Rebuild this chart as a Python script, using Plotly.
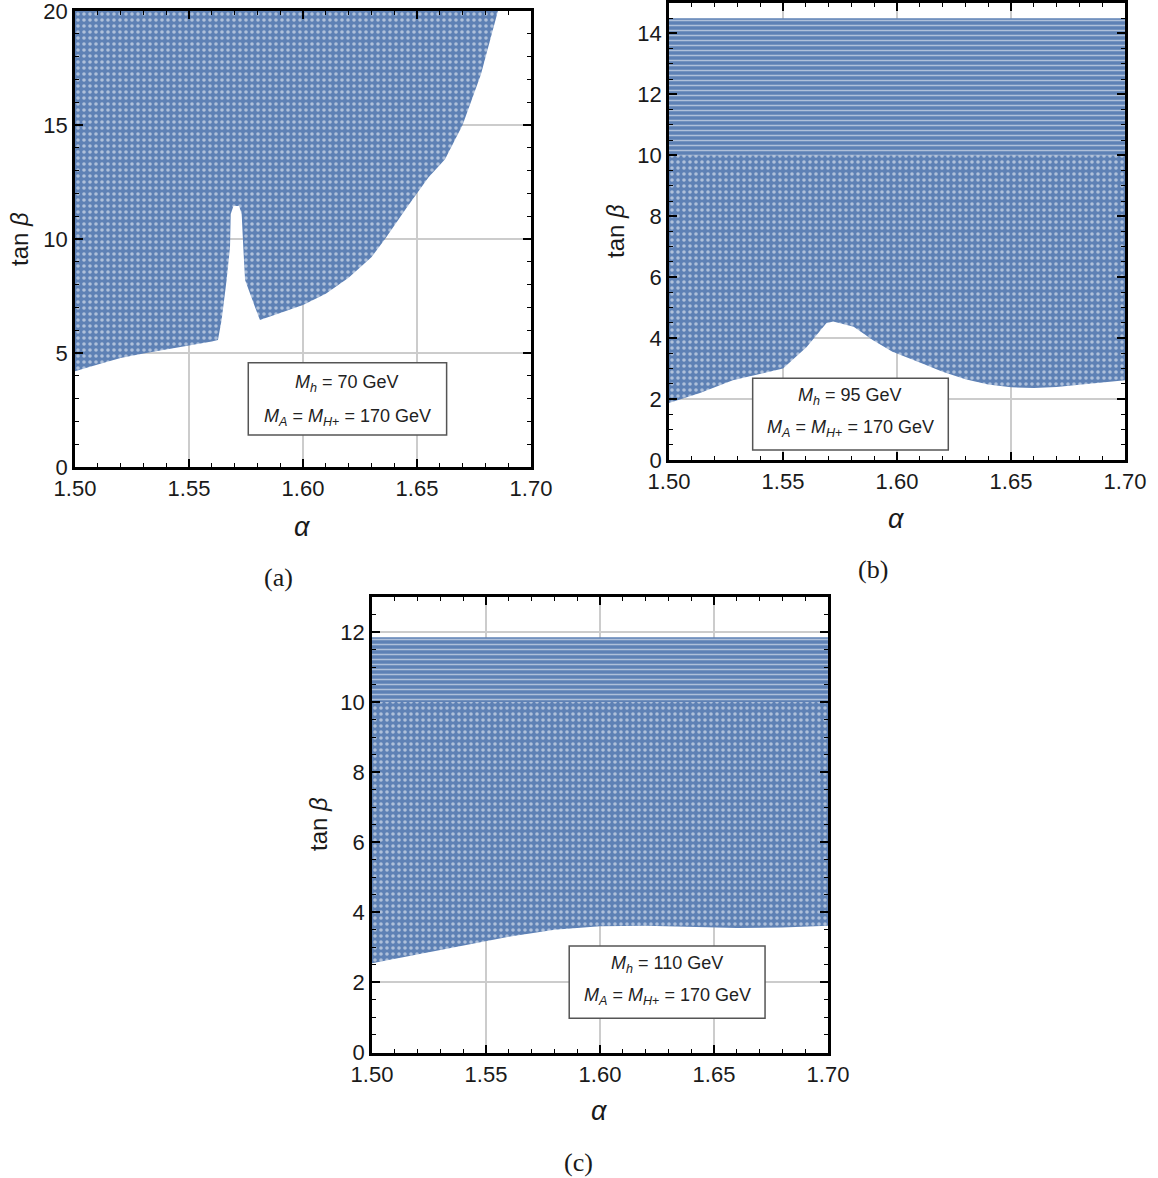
import plotly.graph_objects as go

# ---------------- data ----------------
# Panel (a): boundary of allowed region, traced from top-left corner
a_alpha = [1.50, 1.50, 1.51, 1.52, 1.53, 1.54, 1.55, 1.56, 1.5627, 1.5643, 1.5665,
           1.5680, 1.5683, 1.5695, 1.5720, 1.5731, 1.5738, 1.5746, 1.5789, 1.5811,
           1.59, 1.60, 1.61, 1.62, 1.63, 1.636, 1.645, 1.655, 1.6623, 1.670, 1.678, 1.6855]
a_tanb = [20.0, 4.2, 4.5, 4.78, 4.98, 5.15, 5.3, 5.5, 5.57, 6.45, 8.2,
          9.66, 11.1, 11.45, 11.45, 11.1, 9.66, 8.2, 7.03, 6.45,
          6.75, 7.1, 7.6, 8.3, 9.2, 10.0, 11.3, 12.7, 13.5, 15.0, 17.2, 20.0]

# Panel (b): lower boundary of the speckled region, top of streaked band
b_alpha = [1.50, 1.5136, 1.528, 1.55, 1.5604, 1.569, 1.572, 1.581, 1.5895, 1.598,
           1.61, 1.62, 1.63, 1.64, 1.65, 1.66, 1.67, 1.68, 1.69, 1.70]
b_tanb = [1.87, 2.2, 2.62, 3.0, 3.71, 4.49, 4.55, 4.37, 3.93, 3.55,
          3.2, 2.9, 2.65, 2.48, 2.39, 2.36, 2.4, 2.47, 2.55, 2.62]
b_split = 10.0
b_top = 14.5

# Panel (c)
c_alpha = [1.50, 1.52, 1.54, 1.56, 1.58, 1.60, 1.62, 1.64, 1.66, 1.68, 1.70]
c_tanb = [2.55, 2.8, 3.05, 3.3, 3.5, 3.6, 3.62, 3.58, 3.55, 3.57, 3.62]
c_split = 10.0
c_top = 11.85

labels = {
    "a": ["<i>M</i><sub><i>h</i></sub> = 70 GeV", "<i>M</i><sub><i>A</i></sub> = <i>M</i><sub><i>H</i>+</sub> = 170 GeV"],
    "b": ["<i>M</i><sub><i>h</i></sub> = 95 GeV", "<i>M</i><sub><i>A</i></sub> = <i>M</i><sub><i>H</i>+</sub> = 170 GeV"],
    "c": ["<i>M</i><sub><i>h</i></sub> = 110 GeV", "<i>M</i><sub><i>A</i></sub> = <i>M</i><sub><i>H</i>+</sub> = 170 GeV"],
}
x_ticks = [1.50, 1.55, 1.60, 1.65, 1.70]
y_ticks = {"a": [0, 5, 10, 15, 20], "b": [0, 2, 4, 6, 8, 10, 12, 14], "c": [0, 2, 4, 6, 8, 10, 12]}

# ---------------- styling ----------------
BLUE = "#5E81B5"
W, H = 1158, 1178
FONT = "Liberation Sans, Arial, sans-serif"

speckle = dict(shape=".", bgcolor=BLUE, fgcolor="white", size=6, solidity=0.28)
streak = dict(shape="-", bgcolor=BLUE, fgcolor="white", size=5, solidity=0.3)

fig = go.Figure()

def region(xs, ys, pattern, xa, ya):
    fig.add_trace(go.Scatter(x=xs, y=ys, mode="lines", fill="toself",
                             line=dict(width=0, color=BLUE), fillcolor=BLUE,
                             fillpattern=pattern, hoverinfo="skip",
                             showlegend=False, xaxis=xa, yaxis=ya))

# (a)
region(a_alpha, a_tanb, speckle, "x", "y")
# (b)
region(b_alpha + [b_alpha[-1], b_alpha[0]], b_tanb + [b_split, b_split], speckle, "x2", "y2")
region([b_alpha[0], b_alpha[-1], b_alpha[-1], b_alpha[0]], [b_split, b_split, b_top, b_top], streak, "x2", "y2")
# (c)
region(c_alpha + [c_alpha[-1], c_alpha[0]], c_tanb + [c_split, c_split], speckle, "x3", "y3")
region([c_alpha[0], c_alpha[-1], c_alpha[-1], c_alpha[0]], [c_split, c_split, c_top, c_top], streak, "x3", "y3")

def px_dom(a, b):
    return [a / W, b / W]

def py_dom(top, bottom):
    return [1 - bottom / H, 1 - top / H]

panels = {
    "a": dict(xd=px_dom(75, 531), yd=py_dom(11, 467), yr=[0, 20.0001], ymin=1),
    "b": dict(xd=px_dom(669, 1125), yd=py_dom(3, 460), yr=[0, 15], ymin=0.5),
    "c": dict(xd=px_dom(372, 828), yd=py_dom(597, 1052.5), yr=[0, 13], ymin=0.5),
}

common = dict(showline=True, linecolor="black", linewidth=2.5, mirror="allticks",
              ticks="inside", ticklen=8, tickwidth=1.5, tickcolor="black",
              showgrid=True, gridcolor="#cccccc", gridwidth=1.5, zeroline=False,
              automargin=False, ticklabeloverflow="allow",
              tickfont=dict(family=FONT, size=22, color="#1a1a1a"))

layout = {}
for i, key in enumerate(["a", "b", "c"]):
    p = panels[key]
    sfx = "" if i == 0 else str(i + 1)
    layout["xaxis" + sfx] = dict(domain=p["xd"], range=[1.5, 1.70001], tickvals=x_ticks,
                                 ticktext=["%.2f" % v for v in x_ticks],
                                 anchor="y" + sfx,
                                 minor=dict(dtick=0.01, tick0=1.5, ticks="inside", ticklen=4,
                                            tickwidth=1.2, tickcolor="black", showgrid=False),
                                 **common)
    layout["yaxis" + sfx] = dict(domain=p["yd"], range=p["yr"], tickvals=y_ticks[key],
                                 ticktext=[str(v) for v in y_ticks[key]],
                                 anchor="x" + sfx,
                                 minor=dict(dtick=p["ymin"], tick0=0, ticks="inside", ticklen=4,
                                            tickwidth=1.2, tickcolor="black", showgrid=False),
                                 **common)

fig.update_layout(width=W, height=H, margin=dict(l=0, r=0, t=0, b=0, autoexpand=False),
                  paper_bgcolor="white", plot_bgcolor="white", showlegend=False,
                  **layout)

shapes = []
annotations = []

# legend boxes: (xref, yref, x0, x1, y0, y1, xc, yline1, yline2)
boxes = {
    "a": ("x", "y", 1.576, 1.663, 1.40, 4.57, 1.6195, 3.68, 2.19),
    "b": ("x2", "y2", 1.5367, 1.6225, 0.33, 2.68, 1.5796, 2.07, 1.05),
    "c": ("x3", "y3", 1.5865, 1.6724, 0.98, 3.04, 1.6294, 2.50, 1.59),
}
for key, (xr, yr, x0, x1, y0, y1, xc, l1, l2) in boxes.items():
    shapes.append(dict(type="rect", xref=xr, yref=yr, x0=x0, x1=x1, y0=y0, y1=y1,
                       line=dict(color="#555555", width=1.5), fillcolor="white", layer="above"))
    for yy, txt in zip([l1, l2], labels[key]):
        annotations.append(dict(xref=xr, yref=yr, x=xc, y=yy, text=txt, showarrow=False,
                                font=dict(family=FONT, size=18, color="#222222"),
                                xanchor="center", yanchor="middle"))

# axis titles and captions (pixel positions)
def ann(x, y, text, size, angle=0, family=FONT):
    annotations.append(dict(xref="paper", yref="paper", x=x / W, y=1 - y / H, text=text,
                            showarrow=False, textangle=angle, xanchor="center", yanchor="middle",
                            font=dict(family=family, size=size, color="#1a1a1a")))

ann(20, 239, "tan <i>β</i>", 24, -90)
ann(302, 527, "<i>α</i>", 27)
ann(615, 231, "tan <i>β</i>", 24, -90)
ann(896, 519, "<i>α</i>", 27)
ann(318, 824, "tan <i>β</i>", 24, -90)
ann(599, 1111, "<i>α</i>", 27)

SERIF = "Liberation Serif, DejaVu Serif, serif"
ann(278, 577, "(a)", 26, family=SERIF)
ann(873, 569, "(b)", 26, family=SERIF)
ann(578, 1162, "(c)", 26, family=SERIF)

fig.update_layout(shapes=shapes, annotations=annotations)
fig.write_html("out.html")
